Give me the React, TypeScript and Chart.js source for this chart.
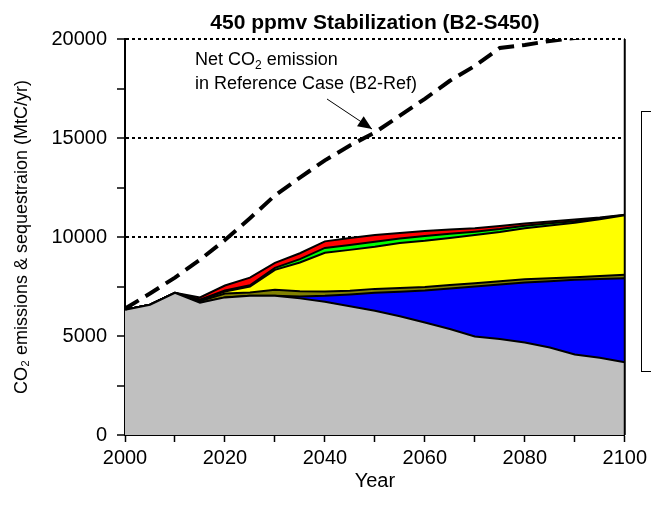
import React, { useEffect, useRef } from 'react';
import { Chart, registerables } from 'chart.js';

Chart.register(...registerables);

const years = [2000, 2005, 2010, 2015, 2020, 2025, 2030, 2035, 2040, 2045, 2050, 2055, 2060, 2065, 2070, 2075, 2080, 2085, 2090, 2095, 2100];
const grayLayer = [6330, 6580, 7180, 6680, 6950, 7030, 7030, 6900, 6730, 6500, 6280, 6000, 5680, 5350, 4980, 4850, 4670, 4420, 4070, 3900, 3670];
const blueLayer = [0, 0, 0, 0, 0, 0, 0, 100, 300, 600, 900, 1240, 1620, 2050, 2520, 2750, 3030, 3350, 3770, 3980, 4250];
const oliveLayer = [0, 0, 0, 80, 200, 170, 300, 260, 220, 190, 200, 180, 170, 170, 170, 170, 170, 150, 130, 150, 170];
const yellowLayer = [0, 0, 0, 50, 100, 300, 1010, 1450, 1950, 2060, 2130, 2280, 2340, 2380, 2430, 2480, 2570, 2660, 2750, 2870, 3010];
const greenLayer = [0, 0, 0, 30, 50, 60, 100, 170, 250, 250, 250, 230, 240, 210, 170, 150, 130, 110, 80, 50, 10];
const redLayer = [0, 0, 0, 110, 250, 390, 250, 300, 330, 350, 340, 270, 250, 220, 170, 150, 110, 90, 80, 40, 20];
const refCase = [6380, 7150, 7950, 8850, 9850, 10950, 12100, 13000, 13870, 14620, 15280, 16130, 16980, 17890, 18640, 19550, 19700, 19900, 20050, 20200, 20400];

const titleText = '450 ppmv Stabilization (B2-S450)';
const yTitle = 'CO\u2082 emissions & sequestraion (MtC/yr)';
const xTitle = 'Year';
const FONT = '"Liberation Sans", Arial, sans-serif';

const pts = (arr: number[]) => years.map((x, i) => ({ x, y: arr[i] }));

const decorPlugin = {
  id: 'decor',
  afterDraw(chart: any) {
    const { ctx, chartArea } = chart;
    ctx.save();
    // right border of plot
    ctx.strokeStyle = '#000';
    ctx.lineWidth = 2;
    ctx.beginPath();
    ctx.moveTo(chartArea.right, chartArea.top);
    ctx.lineTo(chartArea.right, chartArea.bottom);
    ctx.stroke();

    // annotation text
    ctx.fillStyle = '#000';
    ctx.textBaseline = 'alphabetic';
    ctx.textAlign = 'left';
    ctx.font = `18px ${FONT}`;
    let x = 195;
    const y1 = 65;
    ctx.fillText('Net CO', x, y1);
    x += ctx.measureText('Net CO').width;
    ctx.font = `12px ${FONT}`;
    ctx.fillText('2', x, y1 + 4);
    x += ctx.measureText('2').width;
    ctx.font = `18px ${FONT}`;
    ctx.fillText(' emission', x, y1);
    ctx.fillText('in Reference Case (B2-Ref)', 195, 89);

    // arrow
    const sx = 327, sy = 99, ex = 372, ey = 129;
    ctx.lineWidth = 1;
    ctx.beginPath();
    ctx.moveTo(sx, sy);
    ctx.lineTo(ex, ey);
    ctx.stroke();
    const ang = Math.atan2(ey - sy, ex - sx);
    const hl = 14, hw = 6;
    ctx.beginPath();
    ctx.moveTo(ex, ey);
    ctx.lineTo(ex - hl * Math.cos(ang) + hw * Math.sin(ang), ey - hl * Math.sin(ang) - hw * Math.cos(ang));
    ctx.lineTo(ex - hl * Math.cos(ang) - hw * Math.sin(ang), ey - hl * Math.sin(ang) + hw * Math.cos(ang));
    ctx.closePath();
    ctx.fill();

    // legend box (empty)
    ctx.fillStyle = '#fff';
    ctx.fillRect(641.5, 111.5, 30, 260);
    ctx.strokeStyle = '#000';
    ctx.lineWidth = 1;
    ctx.strokeRect(641.5, 111.5, 30, 260);
    ctx.restore();
  },
};

export default function App() {
  const ref = useRef<HTMLCanvasElement>(null);
  useEffect(() => {
    if (!ref.current) return;
    const area = (label: string, data: number[], color: string, fill: any) => ({
      label,
      data: pts(data),
      backgroundColor: color,
      borderColor: '#000',
      borderWidth: 2,
      pointRadius: 0,
      fill,
      tension: 0,
    });
    const chart = new Chart(ref.current, {
      type: 'line',
      data: {
        datasets: [
          {
            label: 'Reference Case (B2-Ref)',
            data: pts(refCase),
            stack: 'ref',
            borderColor: '#000',
            borderWidth: 4,
            borderDash: [16, 8],
            pointRadius: 0,
            fill: false,
            tension: 0,
          } as any,
          area('Layer 1', grayLayer, '#C0C0C0', 'origin'),
          area('Layer 2', blueLayer, '#0000FF', '-1'),
          area('Layer 3', oliveLayer, '#808000', '-1'),
          area('Layer 4', yellowLayer, '#FFFF00', '-1'),
          area('Layer 5', greenLayer, '#00FF00', '-1'),
          area('Layer 6', redLayer, '#FF0000', '-1'),
        ],
      },
      options: {
        responsive: false,
        animation: false,
        layout: { padding: { left: 0, right: 25, top: 0, bottom: 0 } },
        plugins: {
          legend: { display: false },
          tooltip: { enabled: false },
          title: {
            display: true,
            text: titleText,
            fullSize: false,
            color: '#000',
            font: { family: FONT, size: 21, weight: 'bold' },
            padding: { top: 11, bottom: 2.8 },
          },
        },
        scales: {
          x: {
            type: 'linear',
            min: 2000,
            max: 2100,
            afterFit: (s: any) => { s.height = 73; },
            ticks: {
              stepSize: 10,
              autoSkip: false,
              maxRotation: 0,
              color: '#000',
              padding: 4,
              font: { family: FONT, size: 20 },
              callback: (v: any) => (Number(v) % 20 === 0 ? String(v) : ''),
            },
            grid: { drawOnChartArea: false, drawTicks: true, tickLength: 7, tickColor: '#000', tickWidth: 1.5 },
            border: { display: true, color: '#000', width: 2 },
            title: { display: true, text: xTitle, color: '#000', font: { family: FONT, size: 20 }, padding: { top: 0, bottom: 15 } },
          },
          y: {
            stacked: true,
            min: 0,
            max: 20000,
            afterFit: (s: any) => { s.width = 125; },
            ticks: {
              stepSize: 2500,
              autoSkip: false,
              color: '#000',
              padding: 10,
              font: { family: FONT, size: 20 },
              callback: (v: any) => (Number(v) % 5000 === 0 ? String(v) : ''),
            },
            grid: {
              drawOnChartArea: true,
              drawTicks: true,
              tickLength: 8,
              lineWidth: 2,
              color: (c: any) => (c.tick && c.tick.value % 5000 === 0 && c.tick.value > 0 ? '#000' : 'rgba(0,0,0,0)'),
              tickColor: '#000',
              tickWidth: 1.5,
            },
            border: { display: true, color: '#000', width: 2, dash: [3, 3] },
            title: { display: true, text: yTitle, color: '#000', font: { family: FONT, size: 18 }, padding: { top: 11, bottom: 0 } },
          },
        },
      },
      plugins: [decorPlugin],
    });
    return () => chart.destroy();
  }, []);
  return (
    <div style={{ position: 'fixed', left: 0, top: 0, width: 651, height: 508, background: '#fff' }}>
      <canvas ref={ref} width={651} height={508} style={{ display: 'block' }} />
    </div>
  );
}
